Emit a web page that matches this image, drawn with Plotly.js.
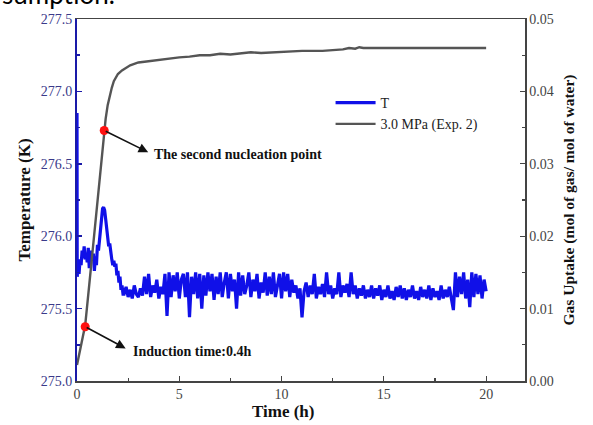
<!DOCTYPE html>
<html>
<head>
<meta charset="utf-8">
<script src="https://cdn.plot.ly/plotly-3.0.1.min.js"></script>
<style>html,body{margin:0;padding:0;background:#fff;}#chart{width:593px;height:425px;}</style>
</head>
<body>
<div id="chart"></div>
<script>
// Temperature series (K), early transient
var tempTimeEarly = [0, 0.01, 0.05, 0.1, 0.15, 0.2, 0.25, 0.3, 0.35, 0.4, 0.45, 0.5, 0.55, 0.6, 0.65, 0.7, 0.75, 0.8, 0.85, 0.9, 0.95, 1.0, 1.05, 1.1, 1.15, 1.2, 1.25, 1.3, 1.35, 1.4, 1.45, 1.5, 1.55, 1.6, 1.65, 1.7, 1.75, 1.8, 1.85, 1.9, 1.95, 2.0, 2.05, 2.1, 2.15, 2.2, 2.25];
var tempEarly = [276.85, 275.72, 275.78, 275.74, 275.84, 275.80, 275.90, 275.85, 275.93, 275.84, 275.88, 275.82, 275.92, 275.78, 275.86, 275.90, 275.83, 275.88, 275.76, 275.86, 275.80, 275.94, 275.90, 275.98, 276.08, 276.15, 276.19, 276.20, 276.18, 276.12, 276.04, 275.96, 275.93, 275.95, 275.88, 275.84, 275.80, 275.83, 275.79, 275.81, 275.73, 275.76, 275.68, 275.72, 275.63, 275.66, 275.60];
// Temperature series (K), steady noisy part
var tempTimeLate = [2.3, 2.4, 2.5, 2.6, 2.7, 2.8, 2.9, 3.0, 3.1, 3.2,
  3.3, 3.4, 3.5, 3.6, 3.7, 3.8, 3.9, 4.0, 4.1, 4.2,
  4.3, 4.4, 4.5, 4.6, 4.7, 4.8, 4.9, 5.0, 5.1, 5.2,
  5.3, 5.4, 5.5, 5.6, 5.7, 5.8, 5.9, 6.0, 6.1, 6.2,
  6.3, 6.4, 6.5, 6.6, 6.7, 6.8, 6.9, 7.0, 7.1, 7.2,
  7.3, 7.4, 7.5, 7.6, 7.7, 7.8, 7.9, 8.0, 8.1, 8.2,
  8.3, 8.4, 8.5, 8.6, 8.7, 8.8, 8.9, 9.0, 9.1, 9.2,
  9.3, 9.4, 9.5, 9.6, 9.7, 9.8, 9.9, 10.0, 10.1, 10.2,
  10.3, 10.4, 10.5, 10.6, 10.7, 10.8, 10.9, 11.0, 11.1, 11.2,
  11.3, 11.4, 11.5, 11.6, 11.7, 11.8, 11.9, 12.0, 12.1, 12.2,
  12.3, 12.4, 12.5, 12.6, 12.7, 12.8, 12.9, 13.0, 13.1, 13.2,
  13.3, 13.4, 13.5, 13.6, 13.7, 13.8, 13.9, 14.0, 14.1, 14.2,
  14.3, 14.4, 14.5, 14.6, 14.7, 14.8, 14.9, 15.0, 15.1, 15.2,
  15.3, 15.4, 15.5, 15.6, 15.7, 15.8, 15.9, 16.0, 16.1, 16.2,
  16.3, 16.4, 16.5, 16.6, 16.7, 16.8, 16.9, 17.0, 17.1, 17.2,
  17.3, 17.4, 17.5, 17.6, 17.7, 17.8, 17.9, 18.0, 18.1, 18.2,
  18.3, 18.4, 18.5, 18.6, 18.7, 18.8, 18.9, 19.0, 19.1, 19.2,
  19.3, 19.4, 19.5, 19.6, 19.7, 19.8, 19.9, 20.0];
var tempLate = [275.60, 275.65, 275.58, 275.63, 275.57, 275.66, 275.60, 275.58, 275.64, 275.59,
  275.72, 275.60, 275.74, 275.58, 275.66, 275.61, 275.70, 275.57, 275.65, 275.60,
  275.74, 275.45, 275.75, 275.58, 275.73, 275.62, 275.75, 275.57, 275.70, 275.74,
  275.58, 275.75, 275.44, 275.72, 275.60, 275.75, 275.57, 275.74, 275.50, 275.73,
  275.59, 275.75, 275.62, 275.74, 275.56, 275.72, 275.60, 275.75, 275.58, 275.68,
  275.75, 275.57, 275.74, 275.62, 275.70, 275.50, 275.75, 275.59, 275.73, 275.60,
  275.66, 275.75, 275.58, 275.70, 275.62, 275.74, 275.57, 275.68, 275.61, 275.75,
  275.59, 275.72, 275.60, 275.75, 275.58, 275.66, 275.74, 275.57, 275.75, 275.62,
  275.74, 275.58, 275.70, 275.61, 275.66, 275.57, 275.64, 275.44, 275.62, 275.68,
  275.58, 275.66, 275.60, 275.74, 275.57, 275.65, 275.60, 275.67, 275.58, 275.75,
  275.60, 275.66, 275.57, 275.64, 275.60, 275.75, 275.58, 275.66, 275.61, 275.67,
  275.58, 275.75, 275.60, 275.66, 275.57, 275.64, 275.59, 275.66, 275.57, 275.63,
  275.58, 275.66, 275.57, 275.64, 275.59, 275.66, 275.56, 275.63, 275.58, 275.66,
  275.57, 275.62, 275.56, 275.65, 275.58, 275.66, 275.57, 275.64, 275.56, 275.63,
  275.58, 275.66, 275.57, 275.62, 275.56, 275.65, 275.58, 275.63, 275.57, 275.66,
  275.56, 275.64, 275.58, 275.62, 275.56, 275.66, 275.57, 275.63, 275.58, 275.65,
  275.57, 275.49, 275.75, 275.58, 275.72, 275.60, 275.75, 275.57, 275.70, 275.51,
  275.75, 275.58, 275.74, 275.60, 275.73, 275.57, 275.70, 275.62];

// Gas uptake (mol of gas / mol of water), 3.0 MPa (Exp. 2)
var gasTime = [0, 0.1, 0.2, 0.3, 0.4, 0.6, 0.8, 1.0, 1.2, 1.4, 1.5, 1.6, 1.7, 1.8, 1.9, 2.0, 2.2, 2.4, 2.6, 2.8, 3.0, 3.3, 3.6, 4.0, 4.5, 5.0, 5.5, 6.0, 6.5, 7.0, 7.5, 8.0, 8.5, 9.0, 10.0, 11.0, 12.0, 12.5, 13.0, 13.3, 13.6, 13.8, 14.0, 14.3, 15.0, 16.0, 17.0, 18.0, 19.0, 20.0];
var gasUptake = [0.0022, 0.0036, 0.0050, 0.0063, 0.0077, 0.0133, 0.0191, 0.0249, 0.0307, 0.0362, 0.0381, 0.0395, 0.0405, 0.0414, 0.0420, 0.0424, 0.0429, 0.0433, 0.0436, 0.0438, 0.0440, 0.0441, 0.0442, 0.0444, 0.0445, 0.0447, 0.0448, 0.0450, 0.0450, 0.0452, 0.0451, 0.0453, 0.0454, 0.0453, 0.0455, 0.0456, 0.0456, 0.0457, 0.0458, 0.0460, 0.0459, 0.0461, 0.0460, 0.0460, 0.0460, 0.0460, 0.0460, 0.0460, 0.0460, 0.0460];

// Marked points
var pointTime = [0.4, 1.33];
var pointUptake = [0.0075, 0.0346];
var pointLabels = ["Induction time:0.4h", "The second nucleation point"];
var labelTime = [2.62, 3.68];
var labelUptake = [0.0041, 0.0313];
var headTime = [2.38, 3.48];
var headUptake = [0.0045, 0.0316];

var seriesNames = ["T", "3.0 MPa (Exp. 2)"];
var axisTitles = {x: "Time (h)", y: "Temperature (K)", y2: "Gas Uptake (mol of gas/ mol of water)"};

var serif = "Liberation Serif, Times New Roman, serif";

var traces = [
  {x: tempTimeEarly.concat(tempTimeLate), y: tempEarly.concat(tempLate), name: seriesNames[0], type: "scatter", mode: "lines",
   line: {color: "#1010e8", width: 3.2}, yaxis: "y"},
  {x: gasTime, y: gasUptake, name: seriesNames[1], type: "scatter", mode: "lines",
   line: {color: "#555555", width: 2.4}, yaxis: "y2"},
  {x: pointTime, y: pointUptake, type: "scatter", mode: "markers", showlegend: false,
   marker: {color: "#ff1010", size: 9}, yaxis: "y2"}
];

var annotations = [];
for (var i = 0; i < pointTime.length; i++) {
  annotations.push({x: headTime[i], y: headUptake[i], xref: "x", yref: "y2", ax: pointTime[i], ay: pointUptake[i],
    axref: "x", ayref: "y2", text: "", showarrow: true, arrowhead: 2, arrowsize: 1.2, arrowwidth: 1.6, arrowcolor: "#111"});
  annotations.push({x: labelTime[i], y: labelUptake[i], xref: "x", yref: "y2", text: "<b>" + pointLabels[i] + "</b>",
    showarrow: false, xanchor: "left", yanchor: "middle", font: {family: serif, size: 14, color: "#111"}});
}
annotations.push({x: 0.46, y: -0.085, xref: "paper", yref: "paper", text: "<b>" + axisTitles.x + "</b>", showarrow: false,
  xanchor: "center", yanchor: "middle", font: {family: serif, size: 17, color: "#111"}});
annotations.push({x: -0.172, y: 1.0193, xref: "paper", yref: "paper", text: "sumption.", showarrow: false,
  xanchor: "left", yanchor: "bottom", font: {family: "Lato, Liberation Sans, sans-serif", size: 26, color: "#000"}});

var layout = {
  width: 593, height: 425,
  margin: {l: 77, r: 68, t: 19, b: 44},
  paper_bgcolor: "#fff", plot_bgcolor: "#fff",
  showlegend: true,
  legend: {x: 0.566, y: 0.812, xanchor: "left", yanchor: "top", bgcolor: "rgba(0,0,0,0)", itemwidth: 40,
    font: {family: serif, size: 14, color: "#222"}, tracegroupgap: 0},
  xaxis: {range: [0, 21.9], dtick: 5, tick0: 0, showgrid: false, zeroline: false,
    showline: true, linecolor: "#444", linewidth: 1.5, mirror: true,
    ticks: "inside", ticklen: 5, tickcolor: "#444", tickwidth: 1.2,
    minor: {dtick: 2.5, ticks: "inside", ticklen: 3, tickcolor: "#444", showgrid: false},
    tickfont: {family: serif, size: 14, color: "#444"}},
  yaxis: {range: [275, 277.5], dtick: 0.5, tick0: 275, tickformat: ".1f", showgrid: false, zeroline: false,
    showline: true, linecolor: "#1a1aa8", linewidth: 2,
    ticks: "inside", ticklen: 5, tickcolor: "#1a1aa8", tickwidth: 1.5,
    minor: {dtick: 0.25, ticks: "inside", ticklen: 3, tickcolor: "#1a1aa8", showgrid: false},
    tickfont: {family: serif, size: 14, color: "#3a3a8a"},
    title: {text: "<b>" + axisTitles.y + "</b>", font: {family: serif, size: 17, color: "#111"}, standoff: 6}},
  yaxis2: {range: [0, 0.05], dtick: 0.01, tick0: 0, tickformat: ".2f", overlaying: "y", side: "right",
    showgrid: false, zeroline: false, showline: true, linecolor: "#444", linewidth: 1.5,
    ticks: "inside", ticklen: 5, tickcolor: "#444", tickwidth: 1.2,
    minor: {dtick: 0.005, ticks: "inside", ticklen: 3, tickcolor: "#444", showgrid: false},
    tickfont: {family: serif, size: 14, color: "#444"},
    title: {text: "<b>" + axisTitles.y2 + "</b>", font: {family: serif, size: 15.5, color: "#111"}, standoff: 10}},
  annotations: annotations
};

Plotly.newPlot("chart", traces, layout, {staticPlot: true, displayModeBar: false});
</script>
</body>
</html>
